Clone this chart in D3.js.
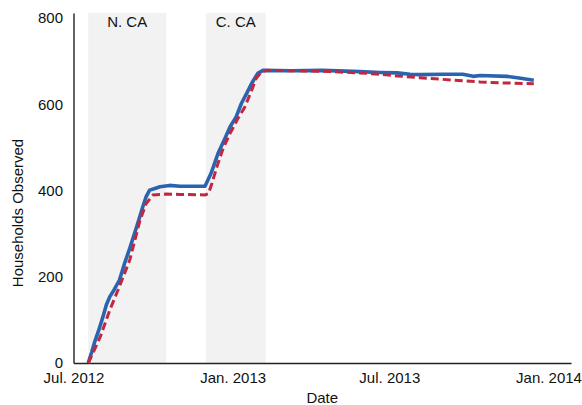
<!DOCTYPE html>
<html>
<head>
<meta charset="utf-8">
<script src="https://cdn.jsdelivr.net/npm/d3@7"></script>
<style>
  html, body { margin: 0; padding: 0; background: #fff; }
  svg { display: block; font-family: "Liberation Sans", Arial, Helvetica, sans-serif; }
</style>
</head>
<body>
<svg id="chart" width="582" height="405"></svg>
<script>
// Households observed over the survey period (two counts)
const blueDates = [
  "2012-07-18","2012-07-22","2012-07-25","2012-07-30","2012-08-04","2012-08-08",
  "2012-08-12","2012-08-17","2012-08-23","2012-08-29","2012-09-04","2012-09-12",
  "2012-09-19","2012-09-23","2012-09-27","2012-10-03","2012-10-09","2012-10-20",
  "2012-11-01","2012-11-15","2012-11-30","2012-12-07","2012-12-15","2012-12-23",
  "2012-12-29","2013-01-05","2013-01-11","2013-01-17","2013-01-23","2013-01-30",
  "2013-02-05","2013-03-09","2013-04-15","2013-05-28","2013-06-20","2013-07-10",
  "2013-07-25","2013-08-05","2013-09-01","2013-09-24","2013-10-06","2013-10-14",
  "2013-11-14","2013-11-28","2013-12-15"
];
const blueValues = [
  0, 25, 46, 75, 107, 135,
  154, 170, 192, 231, 266, 316,
  362, 386, 401, 405, 409, 412,
  410, 410, 410, 440, 486, 521,
  548, 571, 602, 625, 649, 672,
  679, 678, 679, 676, 674, 673,
  670, 669, 670, 670, 665, 667,
  665, 661, 656
];

const redDates = [
  "2012-07-18","2012-07-25","2012-08-01","2012-08-12","2012-08-23","2012-09-04",
  "2012-09-16","2012-09-23","2012-10-01","2012-10-16","2012-11-01","2012-11-30",
  "2012-12-04","2012-12-08","2012-12-15","2012-12-21","2012-12-29","2013-01-07",
  "2013-01-15","2013-01-23","2013-01-28","2013-02-03","2013-02-09","2013-04-15",
  "2013-05-28","2013-06-20","2013-07-10","2013-08-05","2013-09-01","2013-09-24",
  "2013-10-14","2013-11-06","2013-12-15"
];
const redValues = [
  0, 30, 61, 123, 177, 239,
  332, 370, 390, 392, 391, 390,
  393, 417, 463, 498, 533, 567,
  594, 633, 660, 675, 679, 677,
  673, 670, 666, 662, 658, 655,
  652, 650, 648
];

// Shaded survey regions
const regionNames = ["N. CA", "C. CA"];
const regionStarts = ["2012-07-18", "2012-12-01"];
const regionEnds = ["2012-10-16", "2013-02-08"];

// Axis ticks
const xTickDates = ["2012-07-01", "2013-01-01", "2013-07-01", "2014-01-01"];
const xTickLabels = ["Jul. 2012", "Jan. 2013", "Jul. 2013", "Jan. 2014"];
const yTickValues = [0, 200, 400, 600, 800];

const parse = d3.utcParse("%Y-%m-%d");
const width = 582, height = 405;
const margin = { top: 13, right: 11, bottom: 42, left: 73.5 };

const svg = d3.select("#chart");

const x = d3.scaleUtc()
  .domain([parse("2012-07-01"), parse("2014-01-27")])
  .range([margin.left, width - margin.right]);
const y = d3.scaleLinear()
  .domain([0, 812])
  .range([height - margin.bottom, margin.top]);

// Region bands
const regions = regionNames.map((name, i) => ({
  name, start: parse(regionStarts[i]), end: parse(regionEnds[i])
}));
svg.append("g").selectAll("rect")
  .data(regions)
  .join("rect")
  .attr("x", d => x(d.start))
  .attr("width", d => x(d.end) - x(d.start))
  .attr("y", y(812))
  .attr("height", y(0) - y(812))
  .attr("fill", "#f2f2f2");
svg.append("g").selectAll("text")
  .data(regions)
  .join("text")
  .attr("x", d => (x(d.start) + x(d.end)) / 2)
  .attr("y", 27.3)
  .attr("text-anchor", "middle")
  .attr("font-size", 15)
  .attr("fill", "#111")
  .text(d => d.name);

// Axes
const xAxis = d3.axisBottom(x)
  .tickValues(xTickDates.map(parse))
  .tickFormat((d, i) => xTickLabels[i])
  .tickSize(0)
  .tickPadding(9.5);
const gx = svg.append("g")
  .attr("transform", `translate(0,${y(0)})`)
  .call(xAxis);
gx.select(".domain").attr("stroke", "#222").attr("stroke-width", 1.4);
gx.selectAll("text").attr("font-size", 15).attr("fill", "#111").attr("font-family", null);

const yAxis = d3.axisLeft(y)
  .tickValues(yTickValues)
  .tickSize(0)
  .tickPadding(10.5);
const gy = svg.append("g")
  .attr("transform", `translate(${margin.left},0)`)
  .call(yAxis);
gy.select(".domain").attr("stroke", "#222").attr("stroke-width", 1.4);
gy.selectAll("text").attr("font-size", 15).attr("fill", "#111").attr("font-family", null);

// Axis titles
svg.append("text")
  .attr("x", (margin.left + width - margin.right) / 2)
  .attr("y", 403)
  .attr("text-anchor", "middle")
  .attr("font-size", 15)
  .attr("fill", "#111")
  .text("Date");
svg.append("text")
  .attr("transform", "translate(22.7,213) rotate(-90)")
  .attr("text-anchor", "middle")
  .attr("font-size", 15)
  .attr("fill", "#111")
  .text("Households Observed");

// Lines
const line = d3.line()
  .x(d => x(d.date))
  .y(d => y(d.value))
  .curve(d3.curveLinear);

const blueData = blueDates.map((d, i) => ({ date: parse(d), value: blueValues[i] }));
const redData = redDates.map((d, i) => ({ date: parse(d), value: redValues[i] }));

svg.append("path")
  .datum(blueData)
  .attr("d", line)
  .attr("fill", "none")
  .attr("stroke", "#2b64ae")
  .attr("stroke-width", 3.6)
  .attr("stroke-linejoin", "round");

svg.append("path")
  .datum(redData)
  .attr("d", line)
  .attr("fill", "none")
  .attr("stroke", "#c3273f")
  .attr("stroke-width", 3)
  .attr("stroke-dasharray", "8,4");
</script>
</body>
</html>
